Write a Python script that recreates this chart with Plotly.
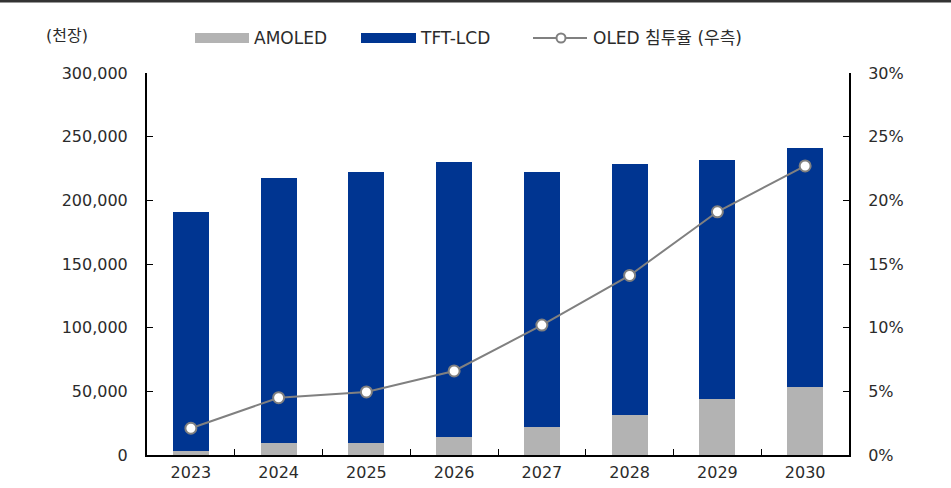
import plotly.graph_objects as go

years = ["2023", "2024", "2025", "2026", "2027", "2028", "2029", "2030"]
amoled = [3400, 9700, 9700, 14400, 22200, 31700, 44000, 53600]
total = [191000, 217500, 222300, 230100, 222000, 228500, 231700, 241100]
tft_lcd = [t - a for t, a in zip(total, amoled)]
oled_share = [2.1, 4.5, 4.95, 6.6, 10.2, 14.1, 19.1, 22.7]

left_ticks = [0, 50000, 100000, 150000, 200000, 250000, 300000]
right_ticks = [0, 5, 10, 15, 20, 25, 30]
right_labels = ["0%", "5%", "10%", "15%", "20%", "25%", "30%"]

GRAY = "#b3b3b3"
NAVY = "#003591"
LINE = "#808080"
TXT = "#2b2b2b"
FONT = "DejaVu Sans, Noto Sans CJK KR"
KFONT = "DejaVu Sans, Noto Sans CJK KR"

fig = go.Figure()
fig.add_trace(go.Bar(x=years, y=amoled, name="AMOLED", marker_color=GRAY,
                     marker_line_width=0, showlegend=False))
fig.add_trace(go.Bar(x=years, y=tft_lcd, name="TFT-LCD", marker_color=NAVY,
                     marker_line_width=0, showlegend=False))
fig.add_trace(go.Scatter(x=years, y=oled_share, name="OLED 침투율 (우측)", yaxis="y2",
                         mode="lines+markers", line=dict(color=LINE, width=2),
                         marker=dict(size=11, color="white", line=dict(color=LINE, width=2)),
                         showlegend=False))

fig.update_layout(
    width=951, height=488,
    margin=dict(l=147, r=102, t=73, b=33),
    paper_bgcolor="white", plot_bgcolor="white",
    barmode="stack", bargap=0.59,
    showlegend=False,
    font=dict(family=FONT, size=16, color=TXT),
    xaxis=dict(type="category", showline=True, linecolor="black", linewidth=2,
               ticks="inside", tickson="boundaries", ticklen=6, tickcolor="black",
               ticklabelstandoff=2, automargin=False,
               tickfont=dict(family=FONT, size=16, color=TXT), showgrid=False),
    yaxis=dict(range=[0, 300000], tickvals=left_ticks, tickformat=",",
               showline=True, linecolor="black", linewidth=2,
               ticks="inside", ticklen=6, tickcolor="black", showgrid=False, zeroline=False,
               ticklabelstandoff=14, automargin=False,
               tickfont=dict(family=FONT, size=16, color=TXT)),
    yaxis2=dict(range=[0, 30], tickvals=right_ticks, ticktext=right_labels,
                overlaying="y", side="right",
                showline=True, linecolor="black", linewidth=2,
                ticks="inside", ticklen=6, tickcolor="black", showgrid=False, zeroline=False,
                ticklabelstandoff=14, automargin=False,
                tickfont=dict(family=FONT, size=16, color=TXT)),
)

def px_x(p):
    return (p - 147) / 702

def px_y(p):
    return (455 - p) / 382

# top border line
fig.add_shape(type="line", xref="paper", yref="paper", x0=px_x(0), x1=px_x(951),
              y0=px_y(1), y1=px_y(1), line=dict(color="#333333", width=3))

ly = 38
# unit label
fig.add_annotation(text="(천장)", xref="paper", yref="paper", x=px_x(44), y=px_y(ly - 3),
                   xanchor="left", yanchor="middle", showarrow=False,
                   font=dict(family=KFONT, size=16, color=TXT))
# legend: AMOLED
fig.add_shape(type="rect", xref="paper", yref="paper", x0=px_x(195), x1=px_x(249),
              y0=px_y(43), y1=px_y(33), fillcolor=GRAY, line_width=0)
fig.add_annotation(text="AMOLED", xref="paper", yref="paper", x=px_x(252), y=px_y(ly),
                   xanchor="left", yanchor="middle", showarrow=False,
                   font=dict(family=KFONT, size=17, color=TXT))
# legend: TFT-LCD
fig.add_shape(type="rect", xref="paper", yref="paper", x0=px_x(361), x1=px_x(416),
              y0=px_y(43), y1=px_y(33), fillcolor=NAVY, line_width=0)
fig.add_annotation(text="TFT-LCD", xref="paper", yref="paper", x=px_x(418), y=px_y(ly),
                   xanchor="left", yanchor="middle", showarrow=False,
                   font=dict(family=KFONT, size=17, color=TXT))
# legend: line
fig.add_shape(type="line", xref="paper", yref="paper", x0=px_x(533), x1=px_x(587),
              y0=px_y(ly), y1=px_y(ly), line=dict(color=LINE, width=2))
fig.add_shape(type="circle", xref="paper", yref="paper", x0=px_x(556.5), x1=px_x(565.5),
              y0=px_y(ly + 4.5), y1=px_y(ly - 4.5), fillcolor="white",
              line=dict(color=LINE, width=2))
fig.add_annotation(text="OLED 침투율 (우측)", xref="paper", yref="paper", x=px_x(591), y=px_y(ly),
                   xanchor="left", yanchor="middle", showarrow=False,
                   font=dict(family=KFONT, size=17, color=TXT))

fig.write_html("out.html", config={"displayModeBar": False},
               post_script="document.body.style.margin='0';")
